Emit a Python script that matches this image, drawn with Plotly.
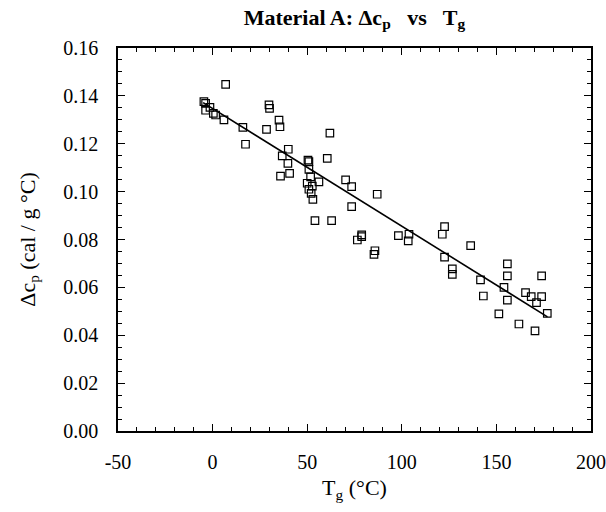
import plotly.graph_objects as go

# Measured glass-transition temperature (°C) and heat-capacity step (cal / g °C)
tg = [-4.6, -3.7, -1.4, -3.7, 0.4, 1.6, 6.0, 6.9, 16.0, 17.4, 28.5, 29.8, 30.1,
      35.1, 35.6, 36.8, 35.9, 40.0, 39.8, 40.7, 50.4, 50.9, 50.9, 51.8, 50.0,
      52.7, 56.2, 50.9, 52.1, 53.0, 60.6, 62.0, 54.1, 62.9, 70.3, 73.5, 73.5,
      76.5, 78.8, 78.8, 85.8, 85.3, 87.0, 98.2, 103.8, 103.4, 122.6, 121.4,
      122.6, 126.7, 126.7, 136.4, 141.6, 143.1, 151.3, 154.0, 155.8, 155.8,
      155.8, 161.9, 165.4, 168.4, 170.4, 171.2, 173.9, 173.9, 176.9]
dcp = [0.1376, 0.1369, 0.1352, 0.1340, 0.1327, 0.1320, 0.1300, 0.1448, 0.1268,
       0.1198, 0.1260, 0.1362, 0.1348, 0.1299, 0.1271, 0.1149, 0.1065, 0.1177,
       0.1118, 0.1076, 0.1132, 0.1125, 0.1093, 0.1062, 0.1035, 0.1023, 0.1041,
       0.1010, 0.0993, 0.0968, 0.1139, 0.1244, 0.0879, 0.0879, 0.1049, 0.1021,
       0.0937, 0.0798, 0.0819, 0.0812, 0.0753, 0.0738, 0.0989, 0.0816, 0.0822,
       0.0794, 0.0854, 0.0822, 0.0726, 0.0677, 0.0654, 0.0774, 0.0631, 0.0564,
       0.0489, 0.0600, 0.0698, 0.0648, 0.0547, 0.0447, 0.0578, 0.0561, 0.0418,
       0.0536, 0.0648, 0.0561, 0.0491]

# Linear trend line endpoints
fit_tg = [-5.0, 177.0]
fit_dcp = [0.1372, 0.0477]

x_ticks = [-50, 0, 50, 100, 150, 200]
x_labels = ["-50", "0", "50", "100", "150", "200"]
y_ticks = [0.00, 0.02, 0.04, 0.06, 0.08, 0.10, 0.12, 0.14, 0.16]

serif = "Liberation Serif, Times New Roman, serif"

fig = go.Figure()
fig.add_trace(go.Scatter(
    x=fit_tg, y=fit_dcp, mode="lines",
    line=dict(color="black", width=1.6), showlegend=False, hoverinfo="skip"))
fig.add_trace(go.Scatter(
    x=tg, y=dcp, mode="markers",
    marker=dict(symbol="square-open", size=7.5, color="black",
                line=dict(color="black", width=1.2)),
    showlegend=False))

axis_common = dict(
    showline=True, linecolor="black", linewidth=1.5, mirror="ticks",
    ticks="inside", ticklen=7, tickwidth=1.3, tickcolor="black",
    showgrid=False, zeroline=False, automargin=False,
    tickfont=dict(family=serif, size=20, color="black"),
)

fig.update_xaxes(
    range=[-50, 200], tickvals=x_ticks, ticktext=x_labels,
    ticklabelstandoff=12,
    minor=dict(dtick=10, tick0=0, ticks="inside", ticklen=4,
               tickwidth=1.1, tickcolor="black"),
    title=dict(text="T<sub>g</sub> (°C)",
               font=dict(family=serif, size=22, color="black"), standoff=8),
    **axis_common)
fig.update_yaxes(
    range=[0, 0.16], tickvals=y_ticks, tickformat=".2f",
    ticklabelstandoff=14,
    minor=dict(dtick=0.005, tick0=0, ticks="inside", ticklen=4,
               tickwidth=1.1, tickcolor="black"),
    title=dict(text="Δc<sub>p</sub> (cal / g °C)",
               font=dict(family=serif, size=22, color="black"), standoff=22),
    **axis_common)

fig.update_layout(
    width=606, height=512,
    margin=dict(l=118, r=15, t=48, b=81),
    paper_bgcolor="white", plot_bgcolor="white",
    title=dict(text="<b>Material A: Δc<sub>p</sub>&nbsp;&nbsp; vs&nbsp;&nbsp; T<sub>g</sub></b>",
               x=0.5, xref="paper", y=0.982, yanchor="top",
               font=dict(family=serif, size=22, color="black")),
)

fig.write_html("out.html")
